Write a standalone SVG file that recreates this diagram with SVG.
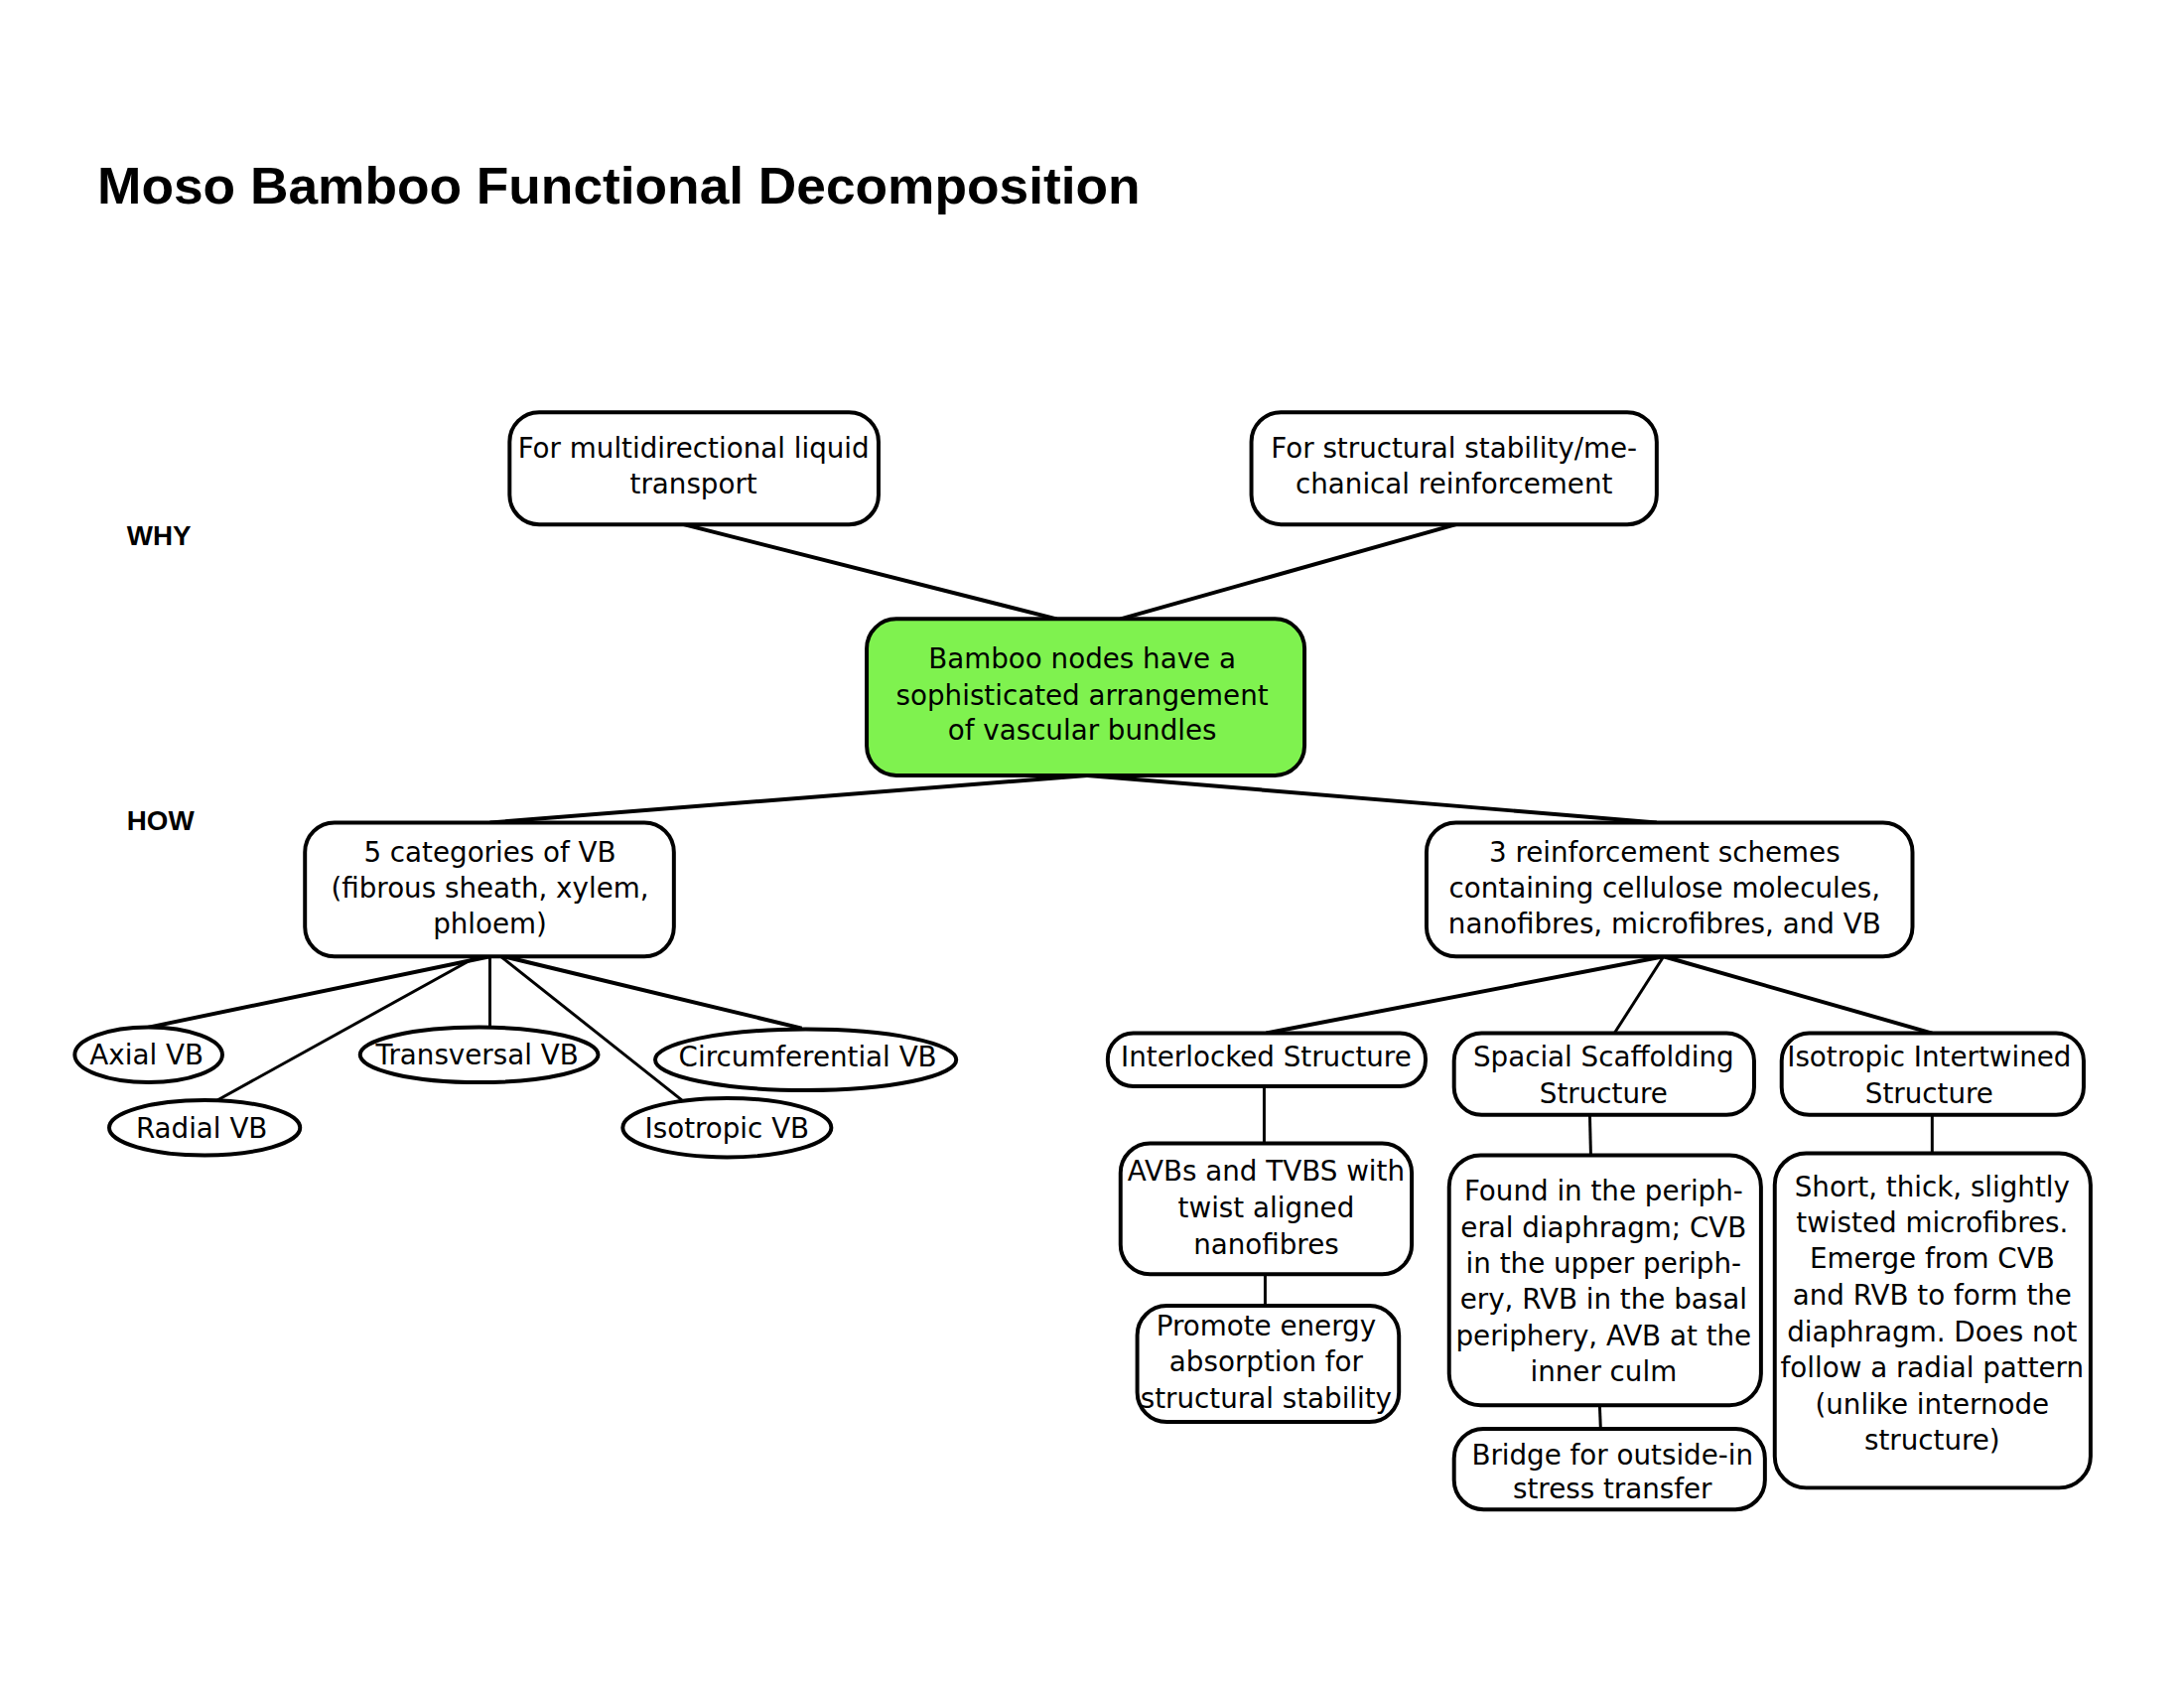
<svg xmlns="http://www.w3.org/2000/svg" width="2200" height="1700" viewBox="0 0 2200 1700">
<style>
.bx{fill:#fff;stroke:#000;stroke-width:4}
.g{fill:#7ff24f}
.t{font-family:"DejaVu Sans","Liberation Sans",sans-serif;font-size:28px;fill:#000;text-anchor:middle}
.lb{font-family:"Liberation Sans",Arial,sans-serif;font-size:28px;font-weight:bold;fill:#000}
.ti{font-family:"Liberation Sans",Arial,sans-serif;font-size:53px;font-weight:bold;fill:#000}
.c line{stroke:#000;stroke-width:4}
.c2 line{stroke:#000;stroke-width:3}
</style>
<rect width="2200" height="1700" fill="#fff"/>
<g transform="scale(0.991)">
<text class="ti" x="99" y="207" textLength="1060" lengthAdjust="spacingAndGlyphs">Moso Bamboo Functional Decomposition</text>
<text class="lb" x="129" y="554">WHY</text>
<text class="lb" x="129" y="844">HOW</text>
<g id="connectors">
<g class="c">
<line x1="695" y1="533" x2="1074" y2="629"/>
<line x1="1480" y1="533" x2="1139" y2="629"/>
<line x1="1105" y1="788" x2="498" y2="836"/>
<line x1="1105" y1="788" x2="1684" y2="836"/>
<line x1="498" y1="972" x2="151" y2="1044"/>
<line x1="512" y1="972" x2="815" y2="1045"/>
<line x1="1691" y1="972" x2="1287" y2="1050"/>
<line x1="1691" y1="972" x2="1964" y2="1050"/>
</g>
<g class="c2">
<line x1="485" y1="972" x2="221" y2="1118"/>
<line x1="498" y1="972" x2="498" y2="1044"/>
<line x1="509" y1="972" x2="693" y2="1118"/>
<line x1="1691" y1="972" x2="1641" y2="1050"/>
<line x1="1285" y1="1104" x2="1285" y2="1162"/>
<line x1="1286" y1="1295" x2="1286" y2="1327"/>
<line x1="1616" y1="1133" x2="1617" y2="1174"/>
<line x1="1626" y1="1428" x2="1627" y2="1452"/>
<line x1="1964" y1="1133" x2="1964" y2="1172"/>
</g>
</g>
<g id="why1"><rect class="bx" x="518" y="419" width="375" height="114" rx="30"/>
<text class="t" x="705" y="465">For multidirectional liquid</text><text class="t" x="705" y="502">transport</text></g>
<g id="why2"><rect class="bx" x="1272" y="419" width="412" height="114" rx="30"/>
<text class="t" x="1478" y="465">For structural stability/me-</text><text class="t" x="1478" y="502">chanical reinforcement</text></g>
<g id="center"><rect class="bx g" x="881" y="629" width="445" height="159" rx="30"/>
<text class="t" x="1100" y="679">Bamboo nodes have a</text><text class="t" x="1100" y="716">sophisticated arrangement</text><text class="t" x="1100" y="752">of vascular bundles</text></g>
<g id="how1"><rect class="bx" x="310" y="836" width="375" height="136" rx="30"/>
<text class="t" x="498" y="876">5 categories of VB</text><text class="t" x="498" y="912">(fibrous sheath, xylem,</text><text class="t" x="498" y="949">phloem)</text></g>
<g id="how2"><rect class="bx" x="1450" y="836" width="494" height="136" rx="30"/>
<text class="t" x="1692" y="876">3 reinforcement schemes</text><text class="t" x="1692" y="912">containing cellulose molecules,</text><text class="t" x="1692" y="949">nanofibres, microfibres, and VB</text></g>
<g id="axial"><ellipse class="bx" cx="151" cy="1072" rx="75" ry="28"/><text class="t" x="149" y="1082">Axial VB</text></g>
<g id="radial"><ellipse class="bx" cx="208" cy="1146" rx="97" ry="28"/><text class="t" x="205" y="1156">Radial VB</text></g>
<g id="transversal"><ellipse class="bx" cx="487" cy="1072" rx="121" ry="28"/><text class="t" x="485" y="1082">Transversal VB</text></g>
<g id="circumferential"><ellipse class="bx" cx="819" cy="1077" rx="153" ry="31"/><text class="t" x="821" y="1084">Circumferential VB</text></g>
<g id="isotropic"><ellipse class="bx" cx="739" cy="1146" rx="106" ry="30"/><text class="t" x="739" y="1156">Isotropic VB</text></g>
<g id="interlocked"><rect class="bx" x="1126" y="1050" width="323" height="54" rx="26"/><text class="t" x="1287" y="1084">Interlocked Structure</text></g>
<g id="spacial"><rect class="bx" x="1478" y="1050" width="305" height="83" rx="28"/>
<text class="t" x="1630" y="1084">Spacial Scaffolding</text><text class="t" x="1630" y="1121">Structure</text></g>
<g id="intertwined"><rect class="bx" x="1811" y="1050" width="307" height="83" rx="28"/>
<text class="t" x="1961" y="1084">Isotropic Intertwined</text><text class="t" x="1961" y="1121">Structure</text></g>
<g id="avbs"><rect class="bx" x="1139" y="1162" width="296" height="133" rx="30"/>
<text class="t" x="1287" y="1200">AVBs and TVBS with</text><text class="t" x="1287" y="1237">twist aligned</text><text class="t" x="1287" y="1274">nanofibres</text></g>
<g id="promote"><rect class="bx" x="1156" y="1327" width="266" height="118" rx="30"/>
<text class="t" x="1287" y="1357">Promote energy</text><text class="t" x="1287" y="1394">absorption for</text><text class="t" x="1287" y="1431">structural stability</text></g>
<g id="found"><rect class="bx" x="1473" y="1174" width="317" height="254" rx="32"/>
<text class="t" x="1630" y="1220">Found in the periph-</text><text class="t" x="1630" y="1257">eral diaphragm; CVB</text><text class="t" x="1630" y="1294">in the upper periph-</text><text class="t" x="1630" y="1330">ery, RVB in the basal</text><text class="t" x="1630" y="1367">periphery, AVB at the</text><text class="t" x="1630" y="1404">inner culm</text></g>
<g id="bridge"><rect class="bx" x="1478" y="1452" width="316" height="82" rx="30"/>
<text class="t" x="1639" y="1488">Bridge for outside-in</text><text class="t" x="1639" y="1523">stress transfer</text></g>
<g id="short"><rect class="bx" x="1804" y="1172" width="321" height="340" rx="32"/>
<text class="t" x="1964" y="1216">Short, thick, slightly</text><text class="t" x="1964" y="1252">twisted microfibres.</text><text class="t" x="1964" y="1289">Emerge from CVB</text><text class="t" x="1964" y="1326">and RVB to form the</text><text class="t" x="1964" y="1363">diaphragm. Does not</text><text class="t" x="1964" y="1400">follow a radial pattern</text><text class="t" x="1964" y="1437">(unlike internode</text><text class="t" x="1964" y="1473">structure)</text></g>
</g>
</svg>
